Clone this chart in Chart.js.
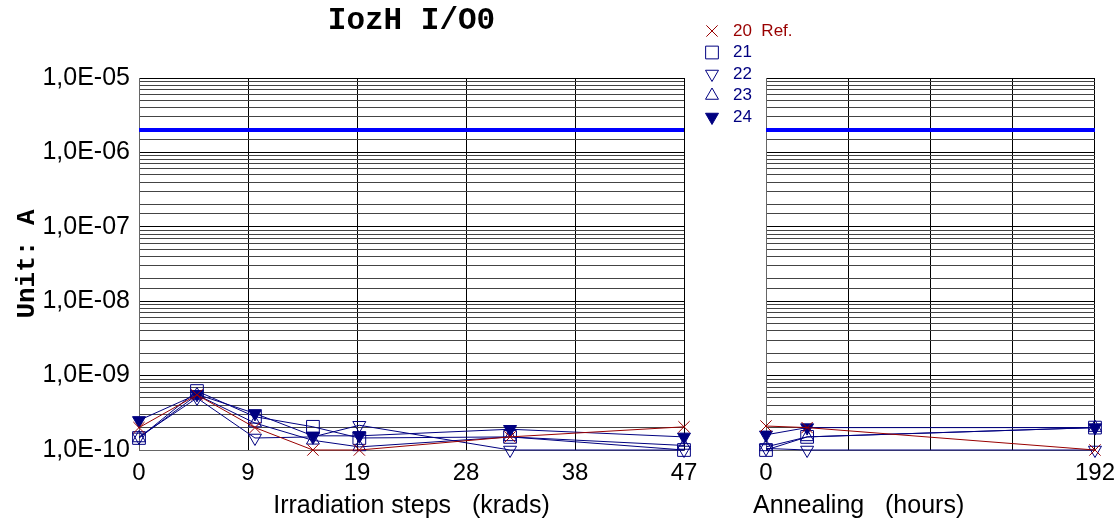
<!DOCTYPE html>
<html>
<head>
<meta charset="utf-8">
<title>IozH I/O0</title>
<script src="https://cdn.jsdelivr.net/npm/chart.js@4.4.1/dist/chart.umd.min.js"></script>
<style>
  html, body { margin: 0; padding: 0; background: #fff; }
  #wrap { position: relative; width: 1120px; height: 521px; overflow: hidden; }
  .box { position: absolute; top: 0; height: 521px; }
  #irrBox { left: 0; width: 720px; }
  #annBox { left: 690px; width: 434px; }
</style>
</head>
<body>
<div id="wrap">
  <div class="box" id="irrBox"><canvas id="irrChart"></canvas></div>
  <div class="box" id="annBox"><canvas id="annChart"></canvas></div>
</div>
<script>
// samples, sample 20 is the reference part
const samples = ['20', '21', '22', '23', '24'];

// irradiation steps (krads)
const irrSteps = [0, 5, 10, 15, 19, 32, 47];
const irrTicks = [0, 9.4, 18.8, 28.2, 37.6, 47];
const irrTickLabels = ['0', '9', '19', '28', '38', '47'];
const irr20 = [2.0e-10, 5.5e-10, 2.0e-10, 1.0e-10, 1.0e-10, 1.5e-10, 2.05e-10];
const irr21 = [1.45e-10, 6.2e-10, 2.8e-10, 2.05e-10, 1.45e-10, 1.5e-10, 1.0e-10];
const irr22 = [1.5e-10, 5.0e-10, 1.45e-10, 1.5e-10, 2.15e-10, 1.0e-10, 1.0e-10];
const irr23 = [1.45e-10, 5.5e-10, 2.3e-10, 1.35e-10, 1.1e-10, 1.5e-10, 1.15e-10];
const irr24 = [2.5e-10, 5.6e-10, 3.1e-10, 1.55e-10, 1.55e-10, 1.9e-10, 1.5e-10];

// annealing (hours)
const annHours = [0, 24, 192];
const annTicks = [0, 48, 96, 144, 192];
const annTickLabels = ['0', '', '', '', '192'];
const ann20 = [2.1e-10, 2.0e-10, 1.0e-10];
const ann21 = [1.0e-10, 1.5e-10, 2.0e-10];
const ann22 = [1.05e-10, 1.0e-10, 1.0e-10];
const ann23 = [1.1e-10, 1.5e-10, 2.0e-10];
const ann24 = [1.6e-10, 2.0e-10, 2.0e-10];

// spec limit and axis range (A)
const specLimit = 2e-6;
const yMin = 1e-10;
const yMax = 1e-5;

const SANS = 'Arial, "Liberation Sans", sans-serif';
const MONO = '"Courier New", "Liberation Mono", monospace';
const RED = '#990000';
const NAVY = '#000080';

Chart.defaults.font.family = SANS;
Chart.defaults.color = '#000';

const seriesStyle = {
  '20': { label: '20  Ref.', color: RED, pointStyle: 'crossRot', radius: 8, rotation: 0, filled: false },
  '21': { label: '21', color: NAVY, pointStyle: 'rect', radius: 9, rotation: 0, filled: false },
  '22': { label: '22', color: NAVY, pointStyle: 'triangle', radius: 7.5, rotation: 180, filled: false },
  '23': { label: '23', color: NAVY, pointStyle: 'triangle', radius: 7.5, rotation: 0, filled: false },
  '24': { label: '24', color: NAVY, pointStyle: 'triangle', radius: 7.5, rotation: 180, filled: true }
};

function sciLabel(v) {
  const exp = Math.round(Math.log10(v));
  if (Math.abs(v - Math.pow(10, exp)) > v * 1e-6) return '';
  return '1,0E' + (exp < 0 ? '-' : '+') + String(Math.abs(exp)).padStart(2, '0');
}

function toPoints(xs, ys) {
  return xs.map((x, i) => ({ x: x, y: ys[i] }));
}

function sampleDataset(name, xs, ys) {
  const st = seriesStyle[name];
  return {
    label: st.label,
    data: toPoints(xs, ys),
    borderColor: st.color,
    borderWidth: 1,
    pointStyle: st.pointStyle,
    pointRadius: st.radius,
    pointRotation: st.rotation,
    pointBorderColor: st.color,
    pointBorderWidth: 1,
    pointBackgroundColor: st.filled ? st.color : 'rgba(0,0,0,0)',
    tension: 0,
    fill: false,
    clip: false
  };
}

function limitDataset(xMin, xMax) {
  return {
    label: 'limit',
    data: [{ x: xMin, y: specLimit }, { x: xMax, y: specLimit }],
    borderColor: '#0000ff',
    borderWidth: 4,
    pointRadius: 0,
    order: 10
  };
}

function logAxis(showLabels) {
  return {
    type: 'logarithmic',
    min: yMin,
    max: yMax,
    afterFit: (s) => { s.width = showLabels ? 139 : 0; },
    ticks: {
      display: showLabels,
      autoSkip: false,
      padding: 9,
      font: { size: 25 },
      color: '#000',
      callback: (v) => sciLabel(v)
    },
    grid: {
      drawTicks: false,
      color: (ctx) => (ctx.tick && sciLabel(ctx.tick.value) ? '#000' : '#444'),
      lineWidth: 1
    },
    border: { color: '#666' },
    title: {
      display: showLabels,
      text: 'Unit: A',
      color: '#000',
      font: { family: MONO, size: 26, weight: 'bold' },
      padding: { top: 12, bottom: 0 }
    }
  };
}

function linearAxis(max, ticks, labels) {
  return {
    type: 'linear',
    min: 0,
    max: max,
    afterBuildTicks: (s) => { s.ticks = ticks.map((v) => ({ value: v })); },
    afterFit: (s) => { s.height = 71; },
    ticks: {
      autoSkip: false,
      maxRotation: 0,
      padding: 9,
      font: { size: 24 },
      color: '#000',
      callback: (v, i) => labels[i]
    },
    grid: { drawTicks: false, color: '#000', lineWidth: 1 },
    border: { color: '#666' }
  };
}

// chart heading over the irradiation plot
const headingPlugin = {
  id: 'heading',
  afterDraw(chart) {
    const { ctx, chartArea } = chart;
    ctx.save();
    ctx.font = 'bold 31px ' + MONO;
    ctx.fillStyle = '#000';
    ctx.textAlign = 'center';
    ctx.textBaseline = 'middle';
    ctx.fillText('IozH I/O0', (chartArea.left + chartArea.right) / 2, 21);
    ctx.restore();
  }
};

// axis caption of the annealing plot, starts a bit left of the axis
const annCaptionPlugin = {
  id: 'annCaption',
  afterDraw(chart) {
    const { ctx } = chart;
    const x = chart.scales.x.left - 13;
    ctx.save();
    ctx.font = '25px ' + SANS;
    ctx.fillStyle = '#000';
    ctx.textAlign = 'left';
    ctx.textBaseline = 'middle';
    ctx.fillText('Annealing   (hours)', x, 506);
    ctx.restore();
  }
};

// sample legend between the two plots
const sampleLegendPlugin = {
  id: 'sampleLegend',
  afterDraw(chart) {
    const { ctx } = chart;
    const x = 22;
    ctx.save();
    ctx.font = '17px ' + SANS;
    ctx.textBaseline = 'middle';
    ctx.textAlign = 'left';
    samples.forEach((name, i) => {
      const st = seriesStyle[name];
      const y = 31 + i * 21.5;
      ctx.strokeStyle = st.color;
      ctx.fillStyle = st.filled ? st.color : 'rgba(0,0,0,0)';
      ctx.lineWidth = 1;
      Chart.helpers.drawPoint(ctx, {
        pointStyle: st.pointStyle,
        radius: st.radius,
        rotation: st.rotation,
        borderWidth: 1
      }, x, y);
      ctx.fillStyle = st.color;
      ctx.fillText(st.label, x + 21, y);
    });
    ctx.restore();
  }
};

const irrSeries = [irr20, irr21, irr22, irr23, irr24];
const annSeries = [ann20, ann21, ann22, ann23, ann24];

new Chart(document.getElementById('irrChart'), {
  type: 'line',
  data: {
    datasets: samples.map((s, i) => sampleDataset(s, irrSteps, irrSeries[i]))
      .concat([limitDataset(0, 47)])
  },
  options: {
    responsive: true,
    maintainAspectRatio: false,
    animation: false,
    devicePixelRatio: 1,
    layout: { padding: { top: 78, right: 36, bottom: 0, left: 0 } },
    plugins: { legend: { display: false }, tooltip: { enabled: false } },
    scales: {
      x: Object.assign(linearAxis(47, irrTicks, irrTickLabels), {
        title: {
          display: true,
          text: 'Irradiation steps   (krads)',
          color: '#000',
          font: { size: 25 },
          padding: { top: 0, bottom: 0 }
        }
      }),
      y: logAxis(true)
    }
  },
  plugins: [headingPlugin]
});

new Chart(document.getElementById('annChart'), {
  type: 'line',
  data: {
    datasets: samples.map((s, i) => sampleDataset(s, annHours, annSeries[i]))
      .concat([limitDataset(0, 192)])
  },
  options: {
    responsive: true,
    maintainAspectRatio: false,
    animation: false,
    devicePixelRatio: 1,
    layout: { padding: { top: 78, right: 22, bottom: 0, left: 76 } },
    plugins: { legend: { display: false }, tooltip: { enabled: false } },
    scales: {
      x: linearAxis(192, annTicks, annTickLabels),
      y: logAxis(false)
    }
  },
  plugins: [annCaptionPlugin, sampleLegendPlugin]
});
</script>
</body>
</html>
